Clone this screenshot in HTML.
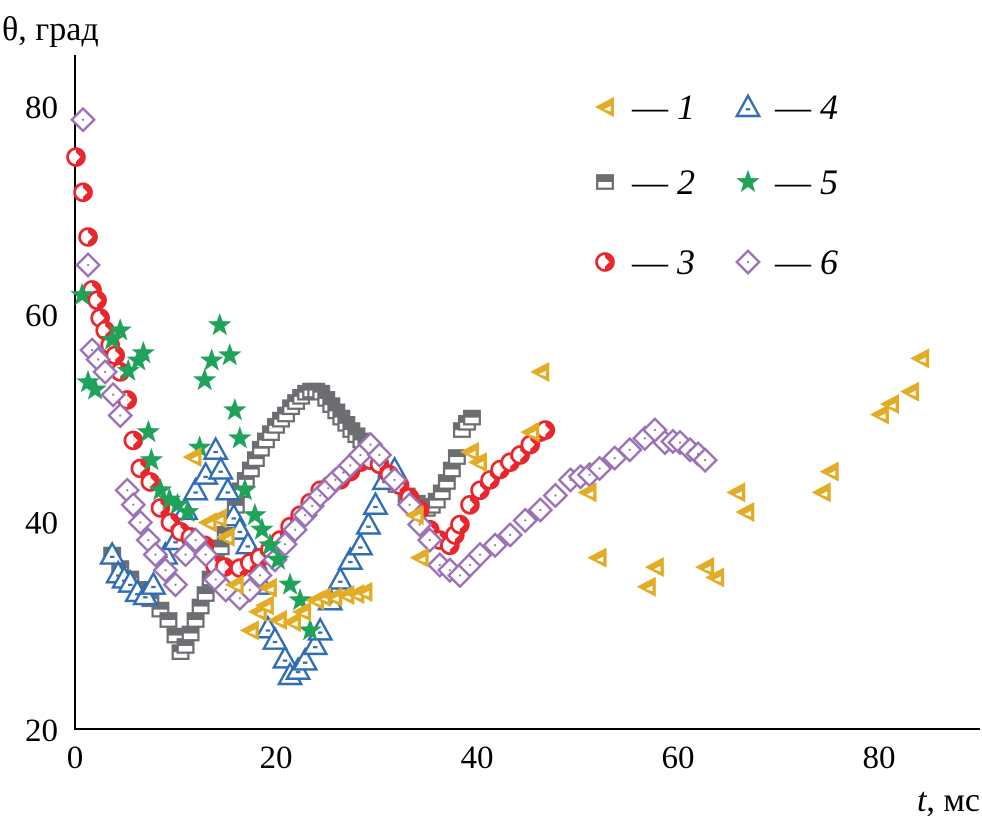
<!DOCTYPE html>
<html><head><meta charset="utf-8"><style>
body{margin:0;background:#fff}
svg{display:block;font-family:"Liberation Serif",serif}
</style></head><body>
<svg id="c" width="982" height="826">
<g id="axes"></g>
<g id="marks"></g>
<g id="legend"></g>
</svg>
<script>
const xTicks=[0,20,40,60,80];
const yTicks=[20,40,60,80];
const s1t=[11.7,13.2,14.2,15.0,15.9,17.4,18.2,18.9,20.2,19.2,21.6,22.6,23.9,24.6,25.7,26.9,27.9,28.7,34.3,33.8,39.3,40.1,45.3,46.3,51.0,52.0,56.9,57.7,62.7,63.7,65.8,66.7,74.3,75.1,80.1,81.1,83.1,84.1];
const s1v=[46.2,39.9,40.3,38.5,33.9,29.5,31.3,31.9,30.5,33.6,30.3,31.3,32.4,32.7,32.7,32.9,33.0,33.2,36.5,40.6,46.7,45.7,48.6,54.4,42.8,36.5,33.7,35.6,35.6,34.6,42.8,40.9,42.8,44.8,50.3,51.3,52.5,55.7];
const s2t=[3.7,4.5,5.5,6.5,7.5,8.5,9.3,10,10.5,11,11.5,12,12.5,13,13.5,14,14.5,15,15.5,16,16.5,17,17.5,18,18.5,19,19.5,20,20.5,21,21.5,22,22.5,23,23.5,24,24.5,25,25.5,26,26.5,27,27.5,28,28.5,29,29.5,30,31,32,33,34,35,35.5,36,36.5,37,37.5,38,38.5,39,39.5];
const s2v=[36.8,35.5,34.5,33.5,32.5,31.5,30.5,29,27.4,28,29.2,30.5,31.8,33,34.5,36,37.5,38.8,40,41.5,43,44,45,46,47,47.8,48.5,49.2,49.8,50.3,51,51.5,52,52.4,52.6,52.6,52.4,51.8,51.2,50.6,50,49.4,48.8,48.3,47.8,47.2,46.5,45.8,44.5,43.5,42.5,41.8,41.2,41.5,42,42.8,43.8,45,46.2,48.8,49.5,50];
const s3t=[0.1,0.8,1.3,1.7,2.2,2.5,3,3.5,4,4.5,5.2,5.8,6.5,7.5,8.5,9.5,10.5,11.5,12.9,13.9,14.9,16.4,17.4,18.4,19.4,20.4,21.4,22.4,23.4,24.4,25.4,26.4,27.4,28.4,29.4,30.3,31.3,32.3,33.3,34.3,35.3,36.3,37.3,37.8,38.3,39.3,40.3,41.3,42.3,43.3,44.3,45.3,46.3,46.8];
const s3v=[75.1,71.7,67.4,62.3,61.3,59.6,58.4,57,56,54.4,51.7,47.8,45.1,43.8,41.3,39.9,39,38.5,37.7,35.8,35.6,35.5,36,36.5,37.3,38.2,39.5,40.6,41.8,43,43.5,44,44.8,45.7,45.9,45.5,44.5,43.5,42.3,41.1,39.2,38.2,37.7,38.7,39.7,41.6,43,44,45,45.7,46.4,47.4,48.6,48.8];
const s4t=[3.7,4.3,4.9,5.5,6.2,7,7.8,9,10,11,12,13,14,14.5,15.2,15.8,16.4,17.2,17.9,18.6,19.2,19.9,20.9,21.4,22.2,22.9,23.9,24.4,25.4,26.4,27.4,28.4,29.2,29.9,30.8,31.8];
const s4v=[36.8,35,34.5,34.1,33.2,32.9,33.9,36.8,38.2,41.1,43,44.5,46.9,45,43,40.5,39.2,37.8,36.3,33.9,29.7,28.6,26.8,25.2,25.7,26.6,28.1,29.5,32.4,34.4,36.3,37.7,39.7,41.6,44,45];
const s5t=[0.7,1.3,2,3.7,4.5,5.3,6.3,6.8,7.3,7.6,8.5,9.4,10.2,11.2,12.4,12.9,13.6,14.4,15.4,15.9,16.4,16.9,17.9,18.6,19.4,20.2,21.4,22.4,23.4];
const s5v=[61.8,53.4,52.7,57.5,58.4,54.5,55.5,56.2,48.6,45.9,43,42.1,41.6,40.9,47.1,53.6,55.5,58.9,56,50.7,48,43,40.6,39.2,37.7,36.3,33.9,32.4,29.5];
const s6t=[0.8,1.3,1.7,2.3,3,3.8,4.5,5.2,5.8,6.5,7.3,8,9,10,11,12,13,14,15,16.4,17.4,18.4,19.9,20.9,21.9,22.9,23.6,24.4,25.2,25.9,26.7,27.4,28.4,29.4,30.3,31.8,33.3,34.3,35.3,36.3,37.3,38.3,39.3,40.3,41.8,43.3,44.8,46.3,47.8,49.3,50.3,51.2,52.2,53.7,55.2,56.7,57.7,58.7,59.5,60.2,61.2,62,62.7];
const s6v=[78.7,64.7,56.5,55.6,54.4,52.2,50.2,43,41.6,39.9,38.2,36.8,35.3,33.9,36.8,38.2,36.8,34.4,33.4,32.6,33.4,34.8,36.3,37.8,39.2,40.6,41.5,42.5,43.2,44,44.7,45.4,46.4,47.4,46.4,44,41.6,39.7,38.2,35.8,35.3,34.8,35.8,36.8,37.7,38.7,40.1,41.1,42.5,44,44.3,44.5,45.1,46.1,46.9,48,48.8,47.6,47.7,47.6,46.9,46.5,45.9];

const X=t=>75+t*10.05, Y=v=>729-(v-20)*10.38;
const NS="http://www.w3.org/2000/svg";
function mk(tag,attrs,parent){const e=document.createElementNS(NS,tag);for(const k in attrs)e.setAttribute(k,attrs[k]);parent.appendChild(e);return e;}
const ax=document.getElementById('axes'),mg=document.getElementById('marks'),lg=document.getElementById('legend');
let l=mk('line',{x1:75,y1:55,x2:75,y2:729,stroke:'#000','stroke-width':2},ax);


l=mk('line',{x1:74,y1:729,x2:980,y2:729,stroke:'#000','stroke-width':2},ax);


xTicks.forEach(t=>{const e=mk('text',{x:X(t),y:768,'text-anchor':'middle','font-size':33},ax);e.textContent=t;

});
yTicks.forEach(v=>{const e=mk('text',{x:58,y:Y(v)+12,'text-anchor':'end','font-size':33},ax);e.textContent=v;

});
let tt=mk('text',{x:2,y:40,'font-size':34},ax);tt.textContent='θ, град';


tt=mk('text',{x:980,y:811,'text-anchor':'end','font-size':34},ax);tt.innerHTML='<tspan font-style="italic">t</tspan>, мс';



function marker(type,x,y,p){
 const g=mk('g',{transform:`translate(${x},${y}) scale(1.12)`},p);
 if(type===1){mk('polygon',{points:'-9,0 8,-9 8,9',fill:'#e2ac26'},g);mk('polygon',{points:'-1,2 5,-1 5,4',fill:'#fff'},g);}
 if(type===2){mk('rect',{x:-8,y:-7,width:16,height:14,fill:'#6d6e71'},g);mk('rect',{x:-6,y:0,width:12,height:5,fill:'#fff'},g);}
 if(type===3){mk('circle',{cx:0,cy:0,r:7.5,fill:'#fff',stroke:'#e8262b','stroke-width':2.5},g);mk('path',{d:'M0,-7.5 A7.5,7.5 0 0 1 0,7.5 Z',fill:'#e8262b'},g);mk('polygon',{points:'0,-4 4,0 0,4',fill:'#fff'},g);}
 if(type===4){mk('polygon',{points:'0,-10 10,8 -10,8',fill:'#fff',stroke:'#2f6db5','stroke-width':2.2},g);mk('rect',{x:-2,y:1,width:4,height:2,fill:'#2f6db5'},g);}
 if(type===5){mk('polygon',{points:'0,-11 2.6,-3.6 10.5,-3.4 4.2,1.4 6.5,9 0,4.5 -6.5,9 -4.2,1.4 -10.5,-3.4 -2.6,-3.6',fill:'#1fa35a'},g);}
 if(type===6){mk('polygon',{points:'0,-10 10,0 0,10 -10,0',fill:'#fff',stroke:'#9b72b8','stroke-width':2.2},g);mk('circle',{cx:0,cy:0,r:1,fill:'#9b72b8'},g);}
 return g;
}
const series=[[2,s2t,s2v],[4,s4t,s4v],[3,s3t,s3v],[6,s6t,s6v],[5,s5t,s5v],[1,s1t,s1v]];
series.forEach(([k,ts,vs])=>{
 const sg=mk('g',{},mg);
 
 
 ts.forEach((t,i)=>{const m=marker(k,X(t),Y(vs[i]),sg);
 
 });
});
const leg=[[1,605,107],[2,605,182],[3,605,262],[4,748,107],[5,748,182],[6,748,262]];
leg.forEach(([k,x,y])=>{
 const g=mk('g',{},lg);
 
 
 marker(k,x,y,g);
 const t=mk('text',{x:x+27,y:y+12,'font-size':36},g);
 t.innerHTML='— <tspan font-style="italic">'+k+'</tspan>';
});
</script>
</body></html>
